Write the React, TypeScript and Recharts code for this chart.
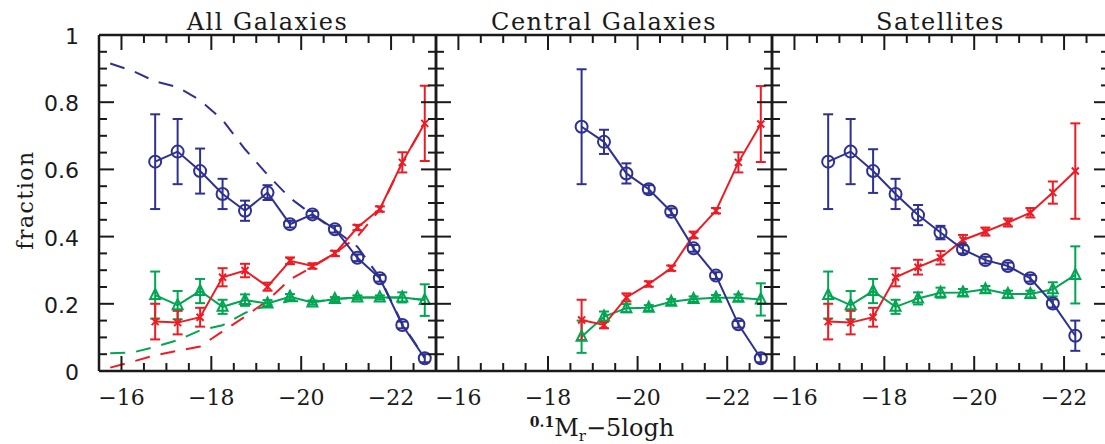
import React from 'react';
import { ComposedChart, Line, XAxis, YAxis, ErrorBar } from 'recharts';

const BLUE = '#2e3192';
const RED = '#ed1c24';
const GREEN = '#00a651';
const INK = '#1a1a1a';

const CHART_W = 1112;
const CHART_H = 444;
const PLOT_TOP = 35;
const PLOT_BOTTOM = 371;
const AXIS_SIZE = 1;

// magnitude bins (0.1Mr - 5logh)
const magAll = [-16.75, -17.25, -17.75, -18.25, -18.75, -19.25, -19.75, -20.25, -20.75, -21.25, -21.75, -22.25, -22.75];
const magCen = [-18.75, -19.25, -19.75, -20.25, -20.75, -21.25, -21.75, -22.25, -22.75];
const magSat = [-16.75, -17.25, -17.75, -18.25, -18.75, -19.25, -19.75, -20.25, -20.75, -21.25, -21.75, -22.25];
const magModel = [-15.75, -16.25, -16.75, -17.25, -17.75, -18.25, -18.75, -19.25, -19.75, -20.25, -20.75, -21.25, -21.75, -22.25, -22.75];

// All galaxies
const allBlue = [0.623, 0.653, 0.595, 0.527, 0.477, 0.531, 0.437, 0.466, 0.422, 0.337, 0.276, 0.137, 0.038];
const allBlueErr = [0.141, 0.097, 0.067, 0.045, 0.03, 0.022, 0.01, 0.01, 0.01, 0.01, 0.01, 0.01, 0.012];
const allRed = [0.147, 0.144, 0.16, 0.279, 0.299, 0.251, 0.328, 0.3125, 0.35, 0.427, 0.482, 0.621, 0.737];
const allRedErr = [0.053, 0.035, 0.028, 0.027, 0.02, 0.012, 0.01, 0.008, 0.008, 0.008, 0.008, 0.03, 0.112];
const allGreen = [0.226, 0.196, 0.238, 0.191, 0.211, 0.201, 0.221, 0.204, 0.214, 0.219, 0.219, 0.219, 0.211];
const allGreenErr = [0.07, 0.042, 0.036, 0.021, 0.017, 0.01, 0.008, 0.006, 0.006, 0.006, 0.006, 0.015, 0.047];

// dashed curves, all galaxies panel
const modelBlue = [0.915, 0.893, 0.862, 0.845, 0.806, 0.747, 0.66, 0.584, 0.515, 0.465, 0.42, 0.37, 0.278, 0.14, 0.04];
const modelRed = [0.01, 0.028, 0.047, 0.06, 0.073, 0.118, 0.162, 0.21, 0.272, 0.31, 0.35, 0.4, 0.48, 0.62, 0.737];
const modelGreen = [0.053, 0.055, 0.072, 0.092, 0.121, 0.136, 0.173, 0.195, 0.208, 0.206, 0.214, 0.219, 0.219, 0.219, 0.211];

// Central galaxies
const cenBlue = [0.727, 0.682, 0.588, 0.541, 0.474, 0.365, 0.284, 0.139, 0.038];
const cenBlueErr = [0.171, 0.036, 0.03, 0.012, 0.01, 0.01, 0.01, 0.01, 0.012];
const cenRed = [0.152, 0.137, 0.219, 0.259, 0.306, 0.405, 0.477, 0.621, 0.735];
const cenRedErr = [0.06, 0.01, 0.012, 0.008, 0.008, 0.01, 0.008, 0.03, 0.113];
const cenGreen = [0.102, 0.162, 0.187, 0.188, 0.206, 0.214, 0.218, 0.218, 0.213];
const cenGreenErr = [0.048, 0.015, 0.012, 0.008, 0.008, 0.008, 0.008, 0.01, 0.048];

// Satellites
const satBlue = [0.623, 0.653, 0.595, 0.527, 0.464, 0.412, 0.362, 0.33, 0.3125, 0.276, 0.201, 0.105];
const satBlueErr = [0.141, 0.097, 0.065, 0.045, 0.03, 0.02, 0.012, 0.01, 0.01, 0.01, 0.012, 0.045];
const satRed = [0.147, 0.144, 0.16, 0.279, 0.309, 0.337, 0.39, 0.415, 0.442, 0.471, 0.531, 0.595];
const satRedErr = [0.053, 0.035, 0.028, 0.027, 0.022, 0.02, 0.015, 0.012, 0.012, 0.014, 0.033, 0.142];
const satGreen = [0.226, 0.196, 0.238, 0.191, 0.216, 0.233, 0.234, 0.243, 0.229, 0.229, 0.243, 0.286];
const satGreenErr = [0.07, 0.042, 0.036, 0.021, 0.018, 0.015, 0.01, 0.01, 0.01, 0.01, 0.021, 0.085];

const xTicks = [-15.5, -16, -16.5, -17, -17.5, -18, -18.5, -19, -19.5, -20, -20.5, -21, -21.5, -22, -22.5, -23];
const xMajor = [-16, -18, -20, -22];
const yTicks = [0, 0.05, 0.1, 0.15, 0.2, 0.25, 0.3, 0.35, 0.4, 0.45, 0.5, 0.55, 0.6, 0.65, 0.7, 0.75, 0.8, 0.85, 0.9, 0.95, 1];
const yMajor = [0, 0.2, 0.4, 0.6, 0.8, 1];
const yMajorLabels = ['0', '0.2', '0.4', '0.6', '0.8', '1'];

const titles = ['All Galaxies', 'Central Galaxies', 'Satellites'];

const rows = (mag: number[], vals: number[], errs?: number[]) =>
  mag.map((x, i) => ({ x, y: vals[i], err: errs ? errs[i] : 0 }));

const isXMajor = (v: number) => xMajor.some((m) => Math.abs(m - v) < 1e-6);
const yMajorIdx = (v: number) => yMajor.findIndex((m) => Math.abs(m - v) < 1e-6);

const MAJOR = 15;
const MINOR = 8;

const circleDot = (p: any) => (
  <circle key={`c${p.index}`} cx={p.cx} cy={p.cy} r={6} fill="none" stroke={BLUE} strokeWidth={2} />
);
const crossDot = (p: any) => {
  const s = 3.5;
  return (
    <path
      key={`x${p.index}`}
      d={`M${p.cx - s},${p.cy - s}L${p.cx + s},${p.cy + s}M${p.cx + s},${p.cy - s}L${p.cx - s},${p.cy + s}`}
      stroke={RED}
      strokeWidth={2}
      fill="none"
    />
  );
};
const triangleDot = (p: any) => {
  const h = 5;
  return (
    <path
      key={`t${p.index}`}
      d={`M${p.cx},${p.cy - h - 1}L${p.cx + h},${p.cy + h - 1}L${p.cx - h},${p.cy + h - 1}Z`}
      stroke={GREEN}
      strokeWidth={2}
      fill="none"
    />
  );
};

type Series = { data: any[]; color: string; dot: any };

type PanelProps = {
  left: number;
  right: number;
  showYLabels: boolean;
  dashed: Series[];
  solid: Series[];
};

const axisLine = { stroke: INK, strokeWidth: 2.5 };

const Panel = ({ left, right, showYLabels, dashed, solid }: PanelProps) => {
  const bottomTick = (p: any) => {
    const v = p.payload.value;
    const major = isXMajor(v);
    return (
      <g>
        <line x1={p.x} x2={p.x} y1={PLOT_BOTTOM} y2={PLOT_BOTTOM - (major ? MAJOR : MINOR)} stroke={INK} strokeWidth={2} />
        {major && (
          <text x={p.x} y={PLOT_BOTTOM + 34} textAnchor="middle" fontFamily="DejaVu Serif" fontSize={22} fill={INK}>
            {`\u2212${Math.abs(v)}`}
          </text>
        )}
      </g>
    );
  };
  const topTick = (p: any) => {
    const major = isXMajor(p.payload.value);
    return <line x1={p.x} x2={p.x} y1={PLOT_TOP} y2={PLOT_TOP + (major ? MAJOR : MINOR)} stroke={INK} strokeWidth={2} />;
  };
  const leftTick = (p: any) => {
    const idx = yMajorIdx(p.payload.value);
    return (
      <g>
        <line x1={left} x2={left + (idx >= 0 ? MAJOR : MINOR)} y1={p.y} y2={p.y} stroke={INK} strokeWidth={2} />
        {showYLabels && idx >= 0 && (
          <text x={left - 20} y={p.y + 9} textAnchor="end" fontFamily="DejaVu Sans" fontSize={22} fill={INK}>
            {yMajorLabels[idx]}
          </text>
        )}
      </g>
    );
  };
  const rightTick = (p: any) => {
    const major = yMajorIdx(p.payload.value) >= 0;
    return <line x1={right} x2={right - (major ? MAJOR : MINOR)} y1={p.y} y2={p.y} stroke={INK} strokeWidth={2} />;
  };

  return (
    <div style={{ position: 'absolute', left: 0, top: 0 }}>
      <ComposedChart
        width={CHART_W}
        height={CHART_H}
        margin={{
          top: PLOT_TOP - AXIS_SIZE,
          bottom: CHART_H - PLOT_BOTTOM - AXIS_SIZE,
          left: left - AXIS_SIZE,
          right: CHART_W - right - AXIS_SIZE,
        }}
      >
        <XAxis
          xAxisId="b"
          dataKey="x"
          type="number"
          domain={[-23, -15.5]}
          reversed
          allowDataOverflow
          ticks={xTicks}
          interval={0}
          height={AXIS_SIZE}
          tickSize={0}
          tickMargin={0}
          tickLine={false}
          axisLine={axisLine}
          tick={bottomTick}
        />
        <XAxis
          xAxisId="t"
          orientation="top"
          dataKey="x"
          type="number"
          domain={[-23, -15.5]}
          reversed
          allowDataOverflow
          ticks={xTicks}
          interval={0}
          height={AXIS_SIZE}
          tickSize={0}
          tickMargin={0}
          tickLine={false}
          axisLine={axisLine}
          tick={topTick}
        />
        <YAxis
          yAxisId="l"
          type="number"
          domain={[0, 1]}
          allowDataOverflow
          ticks={yTicks}
          interval={0}
          width={AXIS_SIZE}
          tickSize={0}
          tickMargin={0}
          tickLine={false}
          axisLine={axisLine}
          tick={leftTick}
        />
        <YAxis
          yAxisId="r"
          orientation="right"
          type="number"
          domain={[0, 1]}
          allowDataOverflow
          ticks={yTicks}
          interval={0}
          width={AXIS_SIZE}
          tickSize={0}
          tickMargin={0}
          tickLine={false}
          axisLine={axisLine}
          tick={rightTick}
        />
        {dashed.map((s, i) => (
          <Line
            key={`d${i}`}
            xAxisId="b"
            yAxisId="l"
            data={s.data}
            dataKey="y"
            type="linear"
            stroke={s.color}
            strokeWidth={2}
            strokeDasharray="15 11"
            dot={false}
            activeDot={false}
            isAnimationActive={false}
          />
        ))}
        {solid.map((s, i) => (
          <Line
            key={`s${i}`}
            xAxisId="b"
            yAxisId="l"
            data={s.data}
            dataKey="y"
            type="linear"
            stroke={s.color}
            strokeWidth={2}
            dot={s.dot}
            activeDot={false}
            isAnimationActive={false}
          >
            <ErrorBar dataKey="err" direction="y" width={5} stroke={s.color} strokeWidth={2} isAnimationActive={false} />
          </Line>
        ))}
      </ComposedChart>
    </div>
  );
};

const App = () => {
  const panelEdges = [
    [99, 436],
    [436, 772],
    [772, 1109],
  ];
  return (
    <div
      style={{
        position: 'absolute',
        left: 0,
        top: 0,
        width: 1105,
        height: 444,
        overflow: 'hidden',
        background: '#fff',
      }}
    >
      <Panel
        left={panelEdges[0][0]}
        right={panelEdges[0][1]}
        showYLabels
        dashed={[
          { data: rows(magModel, modelBlue), color: BLUE, dot: false },
          { data: rows(magModel, modelRed), color: RED, dot: false },
          { data: rows(magModel, modelGreen), color: GREEN, dot: false },
        ]}
        solid={[
          { data: rows(magAll, allGreen, allGreenErr), color: GREEN, dot: triangleDot },
          { data: rows(magAll, allRed, allRedErr), color: RED, dot: crossDot },
          { data: rows(magAll, allBlue, allBlueErr), color: BLUE, dot: circleDot },
        ]}
      />
      <Panel
        left={panelEdges[1][0]}
        right={panelEdges[1][1]}
        showYLabels={false}
        dashed={[]}
        solid={[
          { data: rows(magCen, cenGreen, cenGreenErr), color: GREEN, dot: triangleDot },
          { data: rows(magCen, cenRed, cenRedErr), color: RED, dot: crossDot },
          { data: rows(magCen, cenBlue, cenBlueErr), color: BLUE, dot: circleDot },
        ]}
      />
      <Panel
        left={panelEdges[2][0]}
        right={panelEdges[2][1]}
        showYLabels={false}
        dashed={[]}
        solid={[
          { data: rows(magSat, satGreen, satGreenErr), color: GREEN, dot: triangleDot },
          { data: rows(magSat, satRed, satRedErr), color: RED, dot: crossDot },
          { data: rows(magSat, satBlue, satBlueErr), color: BLUE, dot: circleDot },
        ]}
      />
      <svg width={1105} height={444} style={{ position: 'absolute', left: 0, top: 0, pointerEvents: 'none' }}>
        {titles.map((t, i) => (
          <text
            key={t}
            x={(panelEdges[i][0] + panelEdges[i][1]) / 2}
            y={30}
            textAnchor="middle"
            fontFamily="DejaVu Serif"
            fontSize={24}
            letterSpacing={1.5}
            fill={INK}
          >
            {t}
          </text>
        ))}
        <text
          transform="translate(33,200) rotate(-90)"
          textAnchor="middle"
          fontFamily="DejaVu Serif"
          fontSize={22}
          letterSpacing={1.5}
          fill={INK}
        >
          fraction
        </text>
        <text x={602} y={436} textAnchor="middle" fontFamily="DejaVu Serif" fontSize={24} fill={INK}>
          <tspan fontSize={14} fontWeight="bold" dy={-9}>0.1</tspan>
          <tspan dy={9}>M</tspan>
          <tspan fontSize={15} dy={5}>r</tspan>
          <tspan dy={-5}>{'\u22125logh'}</tspan>
        </text>
      </svg>
    </div>
  );
};

export default App;
